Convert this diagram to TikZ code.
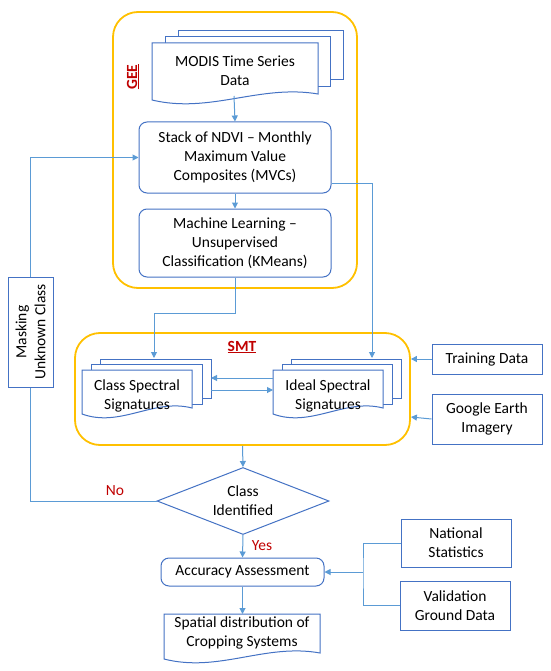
\documentclass[tikz,border=0pt]{standalone}
\usepackage{fontspec}
\setmainfont{Carlito}
\usetikzlibrary{arrows.meta,shapes.geometric,calc}
\definecolor{boxblue}{RGB}{68,114,196}
\definecolor{arrblue}{RGB}{91,155,213}
\definecolor{gold}{RGB}{255,192,0}
\definecolor{darkred}{RGB}{192,0,0}
\tikzset{
  box/.style={draw=boxblue, line width=1pt, fill=white, align=center, inner sep=0pt},
  rbox/.style={box, rounded corners=8pt},
  grp/.style={draw=gold, line width=1.8pt, rounded corners=25pt, inner sep=0pt},
  arr/.style={draw=arrblue, line width=1pt, -{Triangle[length=6pt,width=6pt]}},
  ln/.style={draw=arrblue, line width=1pt},
  docbox/.style={draw=boxblue, line width=1pt, fill=white},
  txt/.style={align=center, inner sep=0pt},
  redlbl/.style={text=darkred, inner sep=0pt},
  every node/.style={font=\fontsize{15.5}{19}\selectfont}
}
\newcommand\docshape[4]{\filldraw[docbox] (#1,#2) -- (#3,#2) -- (#3,{#4-6}) .. controls ({#1+0.65*(#3-#1)},{#4-16}) and ({#1+0.35*(#3-#1)},{#4+14}) .. (#1,#4) -- cycle;}
\newcommand\backrect[4]{\filldraw[docbox] (#1,#2) rectangle (#3,#4);}
\begin{document}
\begin{tikzpicture}[x=1pt,y=-1pt]
\useasboundingbox (0,0) rectangle (550,671);
% groups
\node[grp, minimum width=244pt, minimum height=276pt] (gee) at (235,150) {};
\node[grp, minimum width=335pt, minimum height=112pt] (smt) at (242.5,389) {};
\node[redlbl, rotate=90, font=\fontsize{15.5}{19}\selectfont\bfseries] (geelbl) at (133,77) {\underline{GEE}};
\node[redlbl, font=\fontsize{15.5}{19}\selectfont\bfseries] (smtlbl) at (242,347) {\underline{SMT}};
% MODIS multi-document
\backrect{178}{31}{343}{80}
\backrect{165}{37}{330}{87}
\docshape{152}{43}{318}{100}
\node[txt] (modis) at (235,71) {MODIS Time Series\\Data};
\coordinate (modisbot) at (234,96);
% GEE boxes
\node[rbox, minimum width=192pt, minimum height=71pt] (stack) at (235,157.5) {Stack of NDVI -- Monthly\\Maximum Value\\Composites (MVCs)};
\node[rbox, minimum width=192pt, minimum height=68pt] (ml) at (235,243) {Machine Learning --\\Unsupervised\\Classification (KMeans)};
% SMT documents
\backrect{100}{359}{211}{398}
\backrect{91}{364}{202}{404}
\docshape{82}{370}{192}{414}
\node[txt] (class) at (137,396) {Class Spectral\\Signatures};
\backrect{291}{359}{401}{398}
\backrect{282}{364}{392}{404}
\docshape{273}{370}{383}{414}
\node[txt] (ideal) at (328,396) {Ideal Spectral\\Signatures};
\coordinate (classtop) at (154,358);
\coordinate (idealtop) at (372,358);
\coordinate (classr1) at (211,378);
\coordinate (idealL1) at (273,378);
\coordinate (classr2) at (211,390);
\coordinate (idealL2) at (273,390);
% right inputs
\node[box, minimum width=110pt, minimum height=30pt] (train) at (487,359) {Training Data};
\node[box, minimum width=110pt, minimum height=50pt] (google) at (487,419) {Google Earth\\Imagery};
% diamond
\node[diamond, draw=boxblue, line width=1pt, fill=white, minimum width=172pt, minimum height=67pt, inner sep=0pt, align=center] (dia) at (243,501) {};
\node[txt] (diatext) at (243,501) {Class\\Identified};
% masking
\node[box, minimum width=45pt, minimum height=110pt] (mask) at (30.5,332) {};
\node[txt, rotate=90] (masktext) at (30.5,332) {Masking\\Unknown Class};
% accuracy
\node[rbox, minimum width=163pt, minimum height=28pt] (acc) at (242.5,572) {Accuracy Assessment};
\docshape{164}{614}{320}{659}
\node[txt] (spatial) at (242,633) {Spatial distribution of\\Cropping Systems};
\coordinate (spatialtop) at (242.5,614);
\node[box, minimum width=110pt, minimum height=48pt] (nat) at (456,543) {National\\Statistics};
\node[box, minimum width=110pt, minimum height=49pt] (val) at (455,605.5) {Validation\\Ground Data};
\coordinate (junc) at (363,572);
% connectors
\draw[arr] (modisbot) -- (stack.north);
\draw[arr] (stack.south) -- (ml.north);
\draw[arr] ([yshift=10pt]stack.south east) -| (idealtop);
\draw[arr] (ml.south) -- ++(0,36) -| (classtop);
\draw[arr] (idealL1) -- (classr1);
\draw[arr] (classr2) -- (idealL2);
\draw[arr] (train.west) -- (smt.east |- train.west);
\draw[arr] (google.west) -- ([yshift=2pt]smt.east |- google.west);
\draw[arr] (smt.south) -- (dia.north);
\draw[ln] (dia.west) -| (mask.south);
\draw[arr] (mask.north) |- (stack.west);
\node[redlbl] (nolbl) at (115,491) {No};
\draw[arr] (dia.south) -- (acc.north);
\node[redlbl] (yeslbl) at (262,546) {Yes};
\draw[arr] (acc.south) -- (spatialtop);
\draw[ln] (nat.west) -| (junc) |- (val.west);
\draw[arr] (junc) -- (acc.east);
\end{tikzpicture}
\end{document}
